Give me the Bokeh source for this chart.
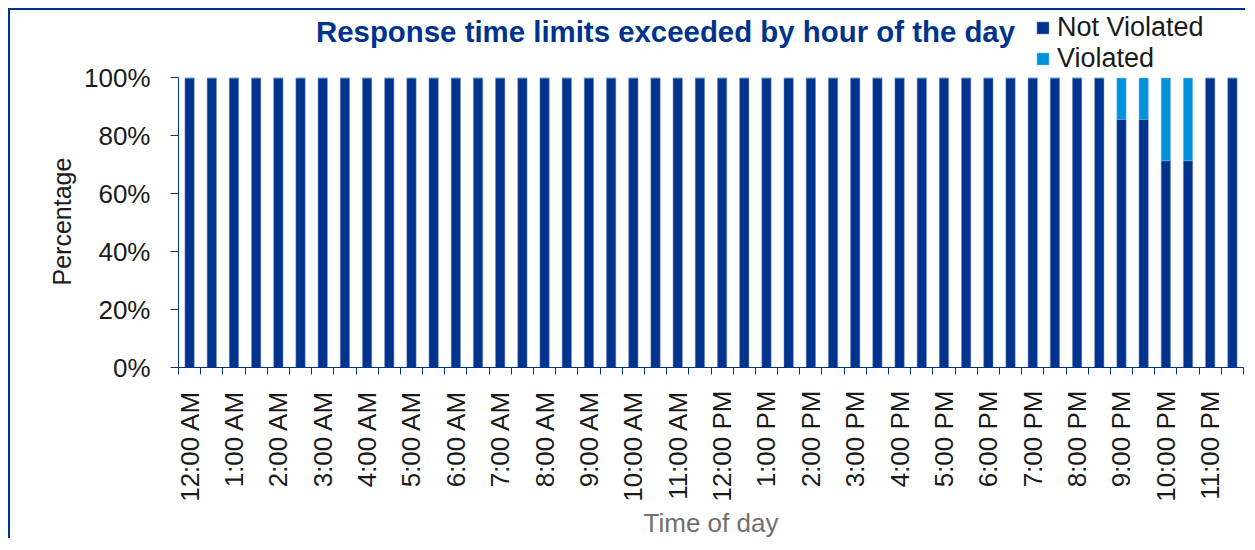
import math
from bokeh.plotting import figure
from bokeh.models import (Range1d, FixedTicker, PrintfTickFormatter, Legend, LegendItem, Label, Spacer, Title)
from bokeh.layouts import row, column
from bokeh.embed import file_html
from bokeh.resources import INLINE

# ---- data ----
slots = list(range(48))  # half-hour slots
hour_labels = ["12:00 AM", "1:00 AM", "2:00 AM", "3:00 AM", "4:00 AM", "5:00 AM",
               "6:00 AM", "7:00 AM", "8:00 AM", "9:00 AM", "10:00 AM", "11:00 AM",
               "12:00 PM", "1:00 PM", "2:00 PM", "3:00 PM", "4:00 PM", "5:00 PM",
               "6:00 PM", "7:00 PM", "8:00 PM", "9:00 PM", "10:00 PM", "11:00 PM"]
not_violated = [100] * 42 + [85.71, 85.71, 71.43, 71.43, 100, 100]
violated = [0] * 42 + [14.29, 14.29, 28.57, 28.57, 0, 0]
y_ticks = [0, 20, 40, 60, 80, 100]
series_names = ["Not Violated", "Violated"]
title_text = "Response time limits exceeded by hour of the day"

DARK = "#00338D"
LIGHT = "#0091DA"
FONT = "Liberation Sans"
TXT = "#1a1a1a"
BORDER = "2px solid #00338D"

# frame reaches the top of the canvas so that title and legend sit inside it;
# the y axis itself is bounded to 0..100
p = figure(width=1237, height=530, output_backend="svg", toolbar_location=None,
           x_range=Range1d(0, 48), y_range=Range1d(0, 123.29),
           min_border_left=168, min_border_right=4, min_border_top=0, min_border_bottom=170)
p.styles = {"border-left": BORDER, "border-top": BORDER}
p.outline_line_color = None
p.xgrid.visible = False
p.ygrid.visible = False

x_centers = [s + 0.5 for s in slots]
top_v = [a + b for a, b in zip(not_violated, violated)]
r1 = p.vbar(x=x_centers, top=not_violated, bottom=0, width=0.42, fill_color=DARK,
            line_color="#6f8cc0", line_width=0.5)
r2 = p.vbar(x=x_centers, top=top_v, bottom=not_violated, width=0.42, fill_color=LIGHT,
            line_color="#7fc4ea", line_width=0.5)

# chart title
p.add_layout(Label(x=21.95, y=115.9, text=title_text, text_align="center", text_baseline="middle",
                   text_font=FONT, text_font_size="29.4px", text_font_style="bold", text_color=DARK))

# legend
legend = Legend(items=[LegendItem(label=series_names[0], renderers=[r1]),
                       LegendItem(label=series_names[1], renderers=[r2])],
                location=(857, 293), orientation="vertical",
                glyph_width=15, glyph_height=15, label_height=28, spacing=0,
                padding=0, margin=0, label_standoff=7,
                label_text_font=FONT, label_text_font_size="27px", label_text_color=TXT,
                background_fill_alpha=0, border_line_color=None)
p.add_layout(legend, "center")

# y axis
ya = p.yaxis[0]
ya.bounds = (0, 100)
ya.ticker = FixedTicker(ticks=y_ticks)
ya.formatter = PrintfTickFormatter(format="%d%%")
ya.axis_line_color = DARK
ya.major_tick_line_color = DARK
ya.major_tick_out = 8
ya.major_tick_in = 0
ya.minor_tick_line_color = None
ya.major_label_standoff = 20
ya.major_label_text_font = FONT
ya.major_label_text_font_size = "26px"
ya.major_label_text_color = TXT

# y axis title, aligned along the 0..100 part of the frame
p.add_layout(Title(text="Percentage", align="left", offset=82, standoff=11,
                   text_font=FONT, text_font_size="25px", text_font_style="normal",
                   text_color=TXT), "left")

# x axis: labels at hour slots, boundary ticks drawn as minor ticks
xa = p.xaxis[0]
label_pos = [2 * i + 0.5 for i in range(len(hour_labels))]
xa.ticker = FixedTicker(ticks=label_pos, minor_ticks=list(range(49)))
xa.major_label_overrides = {pos: lab for pos, lab in zip(label_pos, hour_labels)}
xa.axis_line_color = DARK
xa.major_tick_line_color = None
xa.major_tick_out = 0
xa.major_tick_in = 0
xa.minor_tick_line_color = DARK
xa.minor_tick_out = 7
xa.minor_tick_in = 0
xa.major_label_orientation = math.pi / 2
xa.major_label_standoff = 16
xa.major_label_text_font = FONT
xa.major_label_text_font_size = "26px"
xa.major_label_text_color = TXT
xa.axis_label = "Time of day"
xa.axis_label_text_font = FONT
xa.axis_label_text_font_size = "26px"
xa.axis_label_text_font_style = "normal"
xa.axis_label_text_color = "#707070"
xa.axis_label_standoff = 3

root = row(Spacer(width=8, height=540), column(Spacer(width=1239, height=8), p, spacing=0), spacing=0)
open("out.html", "w").write(file_html(root, INLINE))
